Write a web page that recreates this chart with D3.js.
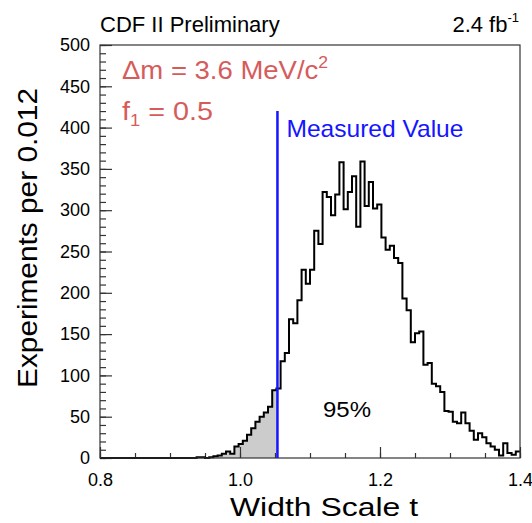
<!DOCTYPE html>
<html>
<head>
<meta charset="utf-8">
<script src="https://cdn.jsdelivr.net/npm/d3@7"></script>
<style>
  body { margin: 0; background: #fff; }
  svg text { font-family: "Liberation Sans", Arial, Helvetica, sans-serif; }
</style>
</head>
<body>
<div id="chart"></div>
<script>
// pseudo-experiment histogram, bins of 0.006 from 0.8 to 1.4
const binStart = 0.8;
const binWidth = 0.006;
const counts = [
  0, 0, 0, 0, 0, 0, 0, 0, 0, 0,
  0, 0, 0, 0, 0, 0, 0, 0, 0, 0,
  0, 0, 0, 1, 1, 0, 1, 2, 3, 5,
  8, 5, 14, 17, 21, 28, 36, 44, 50, 55,
  62, 82, 84, 117, 127, 168, 163, 191, 228, 211,
  228, 275, 259, 322, 316, 294, 319, 358, 301, 322,
  341, 280, 359, 305, 334, 302, 307, 267, 252, 257,
  242, 236, 193, 179, 140, 151, 153, 113, 115, 90,
  87, 80, 57, 56, 44, 42, 55, 42, 33, 22,
  30, 25, 18, 14, 10, 3, 18, 6, 4, 8
];
const measuredValue = 1.0535;
const xMajorTicks = [0.8, 1.0, 1.2, 1.4];
const xMinorTicks = d3.range(0, 13).map(i => 0.8 + i * 0.05);
const yMajorTicks = [0, 50, 100, 150, 200, 250, 300, 350, 400, 450, 500];
const yMinorTicks = d3.range(0, 51).map(i => i * 10);

const width = 532, height = 523;
const plotLeft = 100, plotRight = 520, plotTop = 45, plotBottom = 458;

const svg = d3.select("#chart").append("svg")
  .attr("width", width)
  .attr("height", height);

const x = d3.scaleLinear().domain([0.8, 1.4]).range([plotLeft, plotRight]);
const y = d3.scaleLinear().domain([0, 500]).range([plotBottom, plotTop]);

// step outline points
let pts = [];
counts.forEach((c, i) => {
  let lo = binStart + i * binWidth, hi = lo + binWidth;
  pts.push([lo, c], [hi, c]);
});

svg.append("clipPath").attr("id", "below")
  .append("rect")
  .attr("x", x(0.8)).attr("y", plotTop)
  .attr("width", x(measuredValue) - x(0.8))
  .attr("height", plotBottom - plotTop);

// shaded part below the measured value
svg.append("path")
  .datum(pts)
  .attr("clip-path", "url(#below)")
  .attr("fill", "#cccccc")
  .attr("d", d3.area().x(d => x(d[0])).y0(y(0)).y1(d => y(d[1])));

// axes with inward ticks
function styleAxis(g) {
  g.select(".domain").remove();
  g.selectAll("line").attr("stroke", "#333").attr("stroke-width", 1.2);
  g.selectAll("text").attr("fill", "#000").style("font-size", "18px");
}

svg.append("g").attr("transform", `translate(${plotLeft},0)`)
  .call(d3.axisLeft(y).tickValues(yMinorTicks).tickSizeInner(-6).tickSizeOuter(0).tickFormat(""))
  .call(styleAxis);
svg.append("g").attr("transform", `translate(${plotLeft},0)`)
  .call(d3.axisLeft(y).tickValues(yMajorTicks).tickSizeInner(-12).tickSizeOuter(0).tickPadding(10))
  .call(styleAxis);

svg.append("g").attr("transform", `translate(0,${plotBottom})`)
  .call(d3.axisBottom(x).tickValues(xMinorTicks).tickSizeInner(-5).tickSizeOuter(0).tickFormat(""))
  .call(styleAxis);
svg.append("g").attr("transform", `translate(0,${plotBottom})`)
  .call(d3.axisBottom(x).tickValues(xMajorTicks).tickSizeInner(-11).tickSizeOuter(0).tickPadding(15).tickFormat(d3.format(".1f")))
  .call(styleAxis);

// histogram outline
svg.append("path")
  .datum(pts)
  .attr("fill", "none")
  .attr("stroke", "#000")
  .attr("stroke-width", 2)
  .attr("d", d3.line().x(d => x(d[0])).y(d => y(d[1])));

// frame
svg.append("rect")
  .attr("x", plotLeft).attr("y", plotTop)
  .attr("width", plotRight - plotLeft).attr("height", plotBottom - plotTop)
  .attr("fill", "none").attr("stroke", "#333").attr("stroke-width", 1.2);

// measured value line
svg.append("line")
  .attr("x1", x(measuredValue)).attr("x2", x(measuredValue))
  .attr("y1", y(420)).attr("y2", y(0))
  .attr("stroke", "#1515ff").attr("stroke-width", 2.5);

svg.append("text")
  .attr("x", x(measuredValue) + 9).attr("y", 137)
  .attr("fill", "#1515ff").style("font-size", "24px")
  .attr("textLength", 177).attr("lengthAdjust", "spacingAndGlyphs")
  .text("Measured Value");

// labels (the reference text is a bit wider than plain Helvetica, so stretch)
const red = "#d65c5c";
let dm = svg.append("g").attr("transform", "translate(122,79) scale(1.1,1)")
  .append("text").attr("fill", red).style("font-size", "25px");
dm.append("tspan").text("\u0394m = 3.6 MeV/c");
dm.append("tspan").attr("dy", -11).style("font-size", "16px").text("2");

let f1 = svg.append("g").attr("transform", "translate(122,120) scale(1.15,1)")
  .append("text").attr("fill", red).style("font-size", "25px");
f1.append("tspan").text("f");
f1.append("tspan").attr("dy", 6).style("font-size", "16px").text("1");
f1.append("tspan").attr("dy", -6).text(" = 0.5");

svg.append("text").attr("x", 347).attr("y", 417)
  .attr("text-anchor", "middle").style("font-size", "22px")
  .attr("textLength", 48).attr("lengthAdjust", "spacingAndGlyphs")
  .text("95%");

svg.append("text").attr("x", 100).attr("y", 32)
  .style("font-size", "22px").text("CDF II Preliminary");

let lumi = svg.append("text").attr("x", 519).attr("y", 32)
  .attr("text-anchor", "end").style("font-size", "22px");
lumi.append("tspan").text("2.4 fb");
lumi.append("tspan").attr("dy", -10).style("font-size", "13px").text("-1");

svg.append("text")
  .attr("x", 230).attr("y", 516)
  .style("font-size", "26px")
  .attr("textLength", 188).attr("lengthAdjust", "spacingAndGlyphs")
  .text("Width Scale t");

svg.append("text")
  .attr("transform", `translate(37,388) rotate(-90)`)
  .style("font-size", "27px")
  .attr("textLength", 300).attr("lengthAdjust", "spacingAndGlyphs")
  .text("Experiments per 0.012");
</script>
</body>
</html>
